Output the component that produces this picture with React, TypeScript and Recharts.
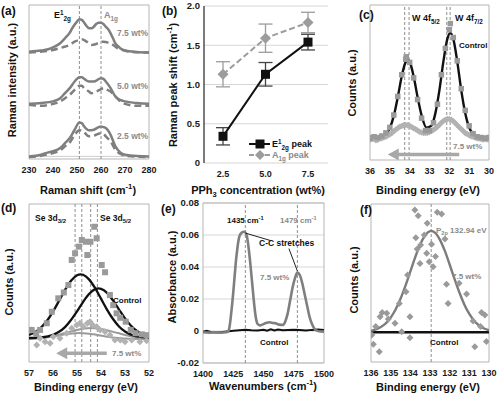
import React from 'react';
import {
  ComposedChart, Line, Scatter, XAxis, YAxis, ReferenceLine, ReferenceArea,
  ReferenceDot, CartesianGrid, ErrorBar,
} from 'recharts';

const FONT = '"Liberation Sans", Arial, Helvetica, sans-serif';
type P = [number, number];
const toXY = (arr: P[]) => arr.map(([x, y]) => ({ x, y }));

// ---------- (a) Raman spectra ----------
const ramanTicks = [230, 240, 250, 260, 270, 280];
const ramanPeakLines = [251, 260];
const raman75Solid: P[] = [[230,69.7],[235,70.4],[238,71.3],[240,72.5],[243,75.2],[245,78.4],[247,82.1],[248,84.9],[250,89.2],[251,90.7],[252,90.3],[253,88.5],[254,86.4],[255,84.9],[256,84.9],[257,85.9],[258,87.7],[259,88.5],[260,88.5],[261,87.7],[262,85.9],[263,84.2],[264,81.6],[265,78.4],[266,75.1],[267,73.4],[268,71.9],[270,70.4],[275,69.5],[280,69.1]];
const raman75Dash: P[] = [[230,69.1],[235,69.7],[240,70.8],[244,72.5],[247,74.1],[249,76.2],[251,77.3],[252,77.7],[254,76.2],[256,74.1],[258,74.7],[260,76.0],[261,76.2],[263,75.6],[265,74.1],[267,71.9],[269,70.8],[272,69.7],[280,69.1]];
const raman50Solid: P[] = [[230,35.8],[235,36.3],[240,37.4],[243,39.5],[245,42.8],[247,46.0],[249,50.3],[251,53.1],[252,53.1],[253,52.0],[255,50.3],[257,50.3],[259,51.8],[260,52.5],[261,52.0],[262,50.3],[264,46.0],[266,40.6],[268,38.4],[270,37.4],[275,36.3],[280,35.8]];
const raman50Dash: P[] = [[230,35.2],[235,34.5],[240,35.8],[243,37.4],[245,39.5],[247,41.7],[249,44.9],[251,47.5],[252,47.5],[253,46.0],[255,43.8],[256,42.7],[258,43.8],[260,45.3],[261,46.0],[262,45.3],[264,43.8],[266,40.6],[268,37.4],[270,35.8],[275,34.5],[280,34.5]];
const raman25Solid: P[] = [[230,1.7],[235,2.8],[238,4.3],[240,5.0],[243,7.1],[245,10.3],[247,13.6],[249,19.0],[251,23.7],[252,23.3],[253,21.1],[255,18.6],[257,19.0],[259,20.7],[260,21.1],[261,20.7],[262,20.1],[264,15.7],[266,8.2],[268,4.3],[270,2.8],[275,1.9],[280,1.7]];
const raman25Dash: P[] = [[230,1.3],[235,2.1],[240,3.9],[243,5.6],[245,8.2],[247,10.8],[249,15.7],[251,18.6],[252,18.4],[253,17.3],[255,14.7],[257,15.1],[259,16.4],[260,16.8],[261,16.4],[262,14.7],[264,11.4],[266,6.0],[268,3.4],[270,2.1],[275,1.5],[280,1.3]];
const ramanBaseline = 1.7;

// ---------- (b) peak shift ----------
const concentrations = ['2.5', '5.0', '7.5'];
const e2gShift = [0.34, 1.13, 1.54];
const e2gErr = [0.11, 0.15, 0.10];
const a1gShift = [1.13, 1.59, 1.79];
const a1gErr = [0.16, 0.18, 0.13];
const shiftTicks = [0, 0.5, 1, 1.5, 2];

// ---------- (c) W 4f ----------
const beTicksW = [30, 31, 32, 33, 34, 35, 36];
const wPeakLines = [34.25, 34.03, 32.13, 31.96];
const wFitControl: P[] = [[36,14.8],[35.6,14.9],[35.3,15.9],[35.0,20.7],[34.8,28.5],[34.6,40.5],[34.4,54.0],[34.25,61.6],[34.1,64.5],[33.95,61.6],[33.8,54.0],[33.6,40.5],[33.4,28.8],[33.15,20.9],[32.9,22.2],[32.7,30.4],[32.5,45.1],[32.3,63.5],[32.1,78.1],[31.95,82.0],[31.8,78.1],[31.6,63.5],[31.4,45.1],[31.2,30.4],[31.0,21.0],[30.8,16.9],[30.5,15.1],[30.0,14.8]];
const wDataControl: P[] = [[36.0,14],[35.8,15],[35.6,14.5],[35.4,15.5],[35.2,17.5],[35.0,21],[34.8,29],[34.6,41],[34.4,55],[34.2,65],[34.17,66.6],[34.0,63],[33.8,53],[33.6,39],[33.4,27],[33.2,19],[33.0,19],[32.8,24],[32.6,36],[32.4,55],[32.2,72],[32.0,84],[31.95,88],[31.8,79],[31.6,64],[31.4,46],[31.2,32],[31.0,22],[30.8,17],[30.6,15],[30.4,14.5],[30.2,14],[30.0,14.5]];
const wData75: P[] = [[36.0,13],[35.9,13.5],[35.8,13.5],[35.7,12.8],[35.6,13],[35.5,13.8],[35.4,14],[35.3,14.6],[35.2,15],[35.1,15.8],[35.0,16.5],[34.9,17.4],[34.8,18.5],[34.7,19.6],[34.6,20.5],[34.5,21.4],[34.4,22],[34.3,22.4],[34.2,22.6],[34.1,22.4],[34.0,22],[33.9,21.3],[33.8,20.5],[33.7,19.8],[33.6,19],[33.5,18.3],[33.4,17.8],[33.3,17.5],[33.2,17.4],[33.1,17.6],[33.0,18],[32.9,18.7],[32.8,19.5],[32.7,20.4],[32.6,21.5],[32.5,22.8],[32.4,24],[32.3,25.1],[32.2,26],[32.1,26.4],[32.0,26.5],[31.9,25.9],[31.8,25],[31.7,23.8],[31.6,22.5],[31.5,21.2],[31.4,20],[31.3,18.7],[31.2,17.5],[31.1,16.7],[31.0,16],[30.9,15.4],[30.8,15],[30.7,14.5],[30.6,14],[30.5,13.8],[30.4,13.5],[30.3,13.2],[30.2,13.5],[30.1,13.2],[30.0,13]];
const wArrow = { from: 31.5, to: 34.6, level: 3.5 };

// ---------- (d) Se 3d ----------
const beTicksSe = [52, 53, 54, 55, 56, 57];
const sePeakLines = [55.08, 54.8, 54.43, 54.15];
const seFit1: P[] = [[57,17.1],[56.75,18.8],[56.5,21.8],[56.25,26.1],[56,31.9],[55.75,38.7],[55.5,45.6],[55.25,51.4],[55,54.9],[54.85,55.5],[54.75,55.2],[54.5,52.3],[54.25,46.9],[54,40.1],[53.75,33.2],[53.5,27.2],[53.25,22.5],[53,19.3],[52.75,17.3],[52.5,16.2],[52.25,15.7],[52,15.4]];
const seFit2: P[] = [[57,15.2],[56.5,15.6],[56,17.2],[55.75,19.1],[55.5,22.1],[55.25,26.6],[55,32.0],[54.75,37.9],[54.5,43.0],[54.25,46.1],[54.1,46.6],[54,46.3],[53.75,43.8],[53.5,39.0],[53.25,33.2],[53,27.6],[52.75,22.9],[52.5,19.6],[52.25,17.5],[52,16.3]];
const seFit75A: P[] = [[57,14.7],[56.5,15.3],[56,16.4],[55.5,18.3],[55,20.3],[54.7,21.2],[54.4,21.5],[54.1,21.2],[53.8,20.3],[53.3,18.3],[52.8,16.4],[52.3,15.3],[52,14.9]];
const seFit75B: P[] = [[57,14.7],[56.5,15.2],[56,16.2],[55.5,17.5],[55.2,18.1],[54.9,18.3],[54.6,18.1],[54.3,17.5],[53.8,16.2],[53.3,15.2],[52.8,14.7],[52,14.5]];
const seDataControl: P[] = [[56.89,20.3],[56.7,18],[56.54,20.3],[56.26,24.5],[56.05,31.8],[55.78,40.3],[55.55,44],[55.36,48.7],[55.22,64.6],[55.08,68.8],[54.92,73],[54.8,77.2],[54.63,76.1],[54.57,67.7],[54.44,76.1],[54.28,85.6],[54.18,78.3],[53.97,61.4],[53.83,56.8],[53.63,42.4],[53.49,36],[53.35,30.8],[53.2,28],[52.97,25.5],[52.76,20.3],[52.56,18.2],[52.3,17.5],[52.1,17]];
const seData75: P[] = [[56.89,20.3],[56.68,10.8],[56.54,15],[56.33,12.8],[56.12,11.8],[55.99,16],[55.71,15],[55.43,18.2],[55.22,21.3],[55.01,23.4],[54.88,24.5],[54.74,22.3],[54.57,24.5],[54.46,25.5],[54.35,23.4],[54.18,22.3],[54.04,20.3],[53.83,19.2],[53.63,17.1],[53.42,13.9],[53.2,13.9],[53.0,12.8],[52.72,14],[52.38,12.8],[52.1,13.5]];
const seArrow = { from: 53.76, to: 55.45, level: 5.5 };

// ---------- (e) FTIR ----------
const waveTicks = [1400, 1425, 1450, 1475, 1500];
const absTicks = [-0.02, 0, 0.02, 0.04, 0.06, 0.08];
const irPeakLines = [1435, 1478];
const ir75: P[] = [[1400,-0.0008],[1405,-0.001],[1410,-0.0008],[1415,-0.001],[1419,-0.0008],[1421,0],[1422,0.003],[1423,0.009],[1424,0.016],[1425,0.024],[1426,0.033],[1427,0.042],[1428,0.049],[1429,0.055],[1430,0.059],[1432,0.0615],[1434,0.062],[1436,0.06],[1437,0.056],[1438,0.05],[1439,0.043],[1440,0.035],[1441,0.027],[1442,0.019],[1443,0.012],[1444,0.007],[1445,0.0045],[1447,0.0035],[1449,0.004],[1452,0.005],[1455,0.0055],[1458,0.005],[1460,0.0048],[1463,0.004],[1466,0.0038],[1468,0.006],[1470,0.011],[1472,0.019],[1474,0.027],[1476,0.033],[1478,0.0365],[1480,0.035],[1482,0.03],[1484,0.023],[1486,0.016],[1488,0.009],[1490,0.0045],[1492,0.0015],[1494,0.0002],[1497,-0.0003],[1500,-0.0004]];
const irControl: P[] = [[1400,-0.0005],[1403,0.0002],[1407,-0.0008],[1412,-0.001],[1418,-0.0005],[1425,0.0002],[1430,0.0005],[1435,0.0008],[1440,0.0004],[1445,0.0003],[1450,0.0008],[1453,0.0002],[1456,0.001],[1459,0.0003],[1462,0.0009],[1466,0.0004],[1470,0.0006],[1475,0.0008],[1480,0.0006],[1485,0.0003],[1490,0.0007],[1495,0.0009],[1500,0.0006]];
const leader1: P[] = [[1435, 0.0612], [1456, 0.0565]];
const leader2: P[] = [[1471, 0.0515], [1478, 0.0375]];

// ---------- (f) P 2p ----------
const beTicksP = [130, 131, 132, 133, 134, 135, 136];
const pPeakLine = 132.94;
const pFit75: P[] = [[136,19.7],[135.75,20.6],[135.5,22.1],[135.25,24.4],[135,28.1],[134.75,33.2],[134.5,40.0],[134.25,48.2],[134,57.3],[133.75,66.4],[133.5,74.4],[133.25,80.1],[133,82.8],[132.94,82.9],[132.75,81.9],[132.5,77.5],[132.25,70.5],[132,61.7],[131.75,52.5],[131.5,43.8],[131.25,36.3],[131,30.4],[130.75,26.0],[130.5,23.1],[130.25,21.2],[130,20.1]];
const pControl: P[] = [[136,18.8],[133,18.8],[130,18.8]];
const pData75: P[] = [[133.77,96.2],[133.6,92.6],[132.63,94.7],[132.41,93.7],[133.14,87.8],[133.72,78.7],[133.29,80.4],[132.24,77.8],[133.48,74.1],[132.92,74.5],[133.65,71.5],[133.17,68.8],[132.72,66.7],[133.51,62.4],[133.04,63.5],[132.84,60.3],[134.14,55.1],[131.52,49.8],[132.16,49.2],[134.22,44.5],[131.14,43.0],[134.56,37.1],[132.08,37.1],[135.43,31.4],[135.2,30.8],[135.54,28.7],[135.12,27.2],[134.02,28.7],[130.38,31.4],[130.21,29.7],[134.78,24.5],[130.81,25.9],[135.76,22.4],[130.43,22.4],[135.96,17.1],[135.88,11.2],[135.58,6.5],[134.44,19.2],[134.02,15.4],[130.72,9.7],[130.13,12.9]];

// ---------- styles ----------
const BLACK = '#111111';
const GRAY = '#7f7f7f';
const GRAY_MARK = '#9a9a9a';
const LIGHT_MARK = '#b2b2b2';
const BOX = '#b5b5b5';
const DASH = '#8e8e8e';
const TXT_GRAY = '#8a8a8a';
const tickStyle = { fontSize: 9, fontWeight: 700, fill: '#1a1a1a', fontFamily: FONT };

const squareShape = (size: number, fill: string) => (p: any) =>
  p.cx == null ? <g /> : <rect x={p.cx - size / 2} y={p.cy - size / 2} width={size} height={size} fill={fill} />;
const diamondShape = (size: number, fill: string) => (p: any) => {
  if (p.cx == null) return <g />;
  const h = size / 2;
  return <polygon points={`${p.cx},${p.cy - h} ${p.cx + h},${p.cy} ${p.cx},${p.cy + h} ${p.cx - h},${p.cy}`} fill={fill} />;
};
const arrowHead = (fill: string) => (p: any) =>
  p.cx == null ? <g /> : <polygon points={`${p.cx - 10},${p.cy} ${p.cx + 1},${p.cy - 6} ${p.cx + 1},${p.cy + 6}`} fill={fill} />;

const Lbl = ({ x, y, size = 8, color = BLACK, anchor = 'start', rot = false, children }: any) => (
  <text
    x={rot ? x + size * 0.35 : x}
    y={rot ? y : y + size * 0.35}
    fontSize={size}
    fontWeight={700}
    fill={color}
    textAnchor={anchor}
    fontFamily={FONT}
    transform={rot ? `rotate(-90 ${x + size * 0.35} ${y})` : undefined}
  >
    {children}
  </text>
);

const Sup = ({ children, s }: any) => <tspan fontSize={s * 0.7} dy={-s * 0.4}>{children}</tspan>;
const After = ({ children, s }: any) => <tspan dy={s * 0.4}>{children}</tspan>;

const Box = ({ x1, x2, y1, y2 }: any) => (
  <ReferenceArea x1={x1} x2={x2} y1={y1} y2={y2} fill="none" fillOpacity={0} stroke={BOX} strokeWidth={1} />
);

const PanelA = () => (
  <ComposedChart width={165} height={197} margin={{ top: 5, left: 29, right: 16, bottom: 0 }}>
    <XAxis type="number" dataKey="x" domain={[230, 280]} ticks={ramanTicks} allowDataOverflow
      axisLine={false} tickLine={false} tick={tickStyle} height={38} interval={0} />
    <YAxis type="number" dataKey="y" domain={[0, 100]} hide allowDataOverflow />
    <Box x1={230} x2={280} y1={0} y2={100} />
    <ReferenceLine y={ramanBaseline} stroke="#cfcfcf" strokeWidth={1} />
    {ramanPeakLines.map((v) => (
      <ReferenceLine key={v} x={v} stroke={DASH} strokeDasharray="3 2" strokeWidth={1} />
    ))}
    {[raman75Solid, raman50Solid, raman25Solid].map((d, i) => (
      <Line key={'s' + i} data={toXY(d)} dataKey="y" type="monotone" dot={false} stroke={GRAY} strokeWidth={2.5} isAnimationActive={false} />
    ))}
    {[raman75Dash, raman50Dash, raman25Dash].map((d, i) => (
      <Line key={'d' + i} data={toXY(d)} dataKey="y" type="monotone" dot={false} stroke={GRAY} strokeWidth={2.5} strokeDasharray="7 4" isAnimationActive={false} />
    ))}
  </ComposedChart>
);

const panelBRows = concentrations.map((c, i) => ({ conc: c, e: e2gShift[i], eErr: e2gErr[i], a: a1gShift[i], aErr: a1gErr[i] }));

const PanelB = () => (
  <ComposedChart width={170} height={197} data={panelBRows} margin={{ top: 6, left: 0, right: 2, bottom: 0 }}>
    <CartesianGrid vertical={false} stroke="#d6d6d6" />
    <XAxis dataKey="conc" type="category" axisLine={false} tickLine={false} tick={tickStyle} height={34}
      padding={{ left: 19, right: 20 }} />
    <YAxis type="number" domain={[0, 2]} ticks={shiftTicks} width={44} allowDataOverflow
      axisLine={{ stroke: '#222', strokeWidth: 1.2 }} tickLine={false} tickSize={0} tickMargin={4}
      tick={{ ...tickStyle, fontSize: 9.5 }} tickFormatter={(v: number) => (v === 0 ? '0' : v.toFixed(1))} />
    <Line dataKey="a" stroke="#9c9c9c" strokeWidth={2} strokeDasharray="6 3" isAnimationActive={false}
      dot={(p: any) => <g key={'ad' + p.index}>{diamondShape(11, '#9c9c9c')(p)}</g>}>
      <ErrorBar dataKey="aErr" width={7} stroke="#9c9c9c" strokeWidth={1.3} direction="y" />
    </Line>
    <Line dataKey="e" stroke={BLACK} strokeWidth={2} isAnimationActive={false}
      dot={(p: any) => <g key={'ed' + p.index}>{squareShape(9, BLACK)(p)}</g>}>
      <ErrorBar dataKey="eErr" width={7} stroke="#444" strokeWidth={1.3} direction="y" />
    </Line>
  </ComposedChart>
);

const PanelC = () => (
  <ComposedChart width={170} height={197} margin={{ top: 5, left: 40, right: 11, bottom: 0 }}>
    <XAxis type="number" dataKey="x" domain={[30, 36]} reversed ticks={beTicksW} allowDataOverflow interval={0}
      axisLine={false} tickLine={false} tick={tickStyle} height={37} />
    <YAxis type="number" dataKey="y" domain={[0, 100]} hide allowDataOverflow />
    <Box x1={30} x2={36} y1={0} y2={100} />
    {wPeakLines.map((v) => (
      <ReferenceLine key={v} x={v} stroke={DASH} strokeDasharray="3 2" strokeWidth={1} />
    ))}
    <Scatter data={toXY(wData75)} isAnimationActive={false} shape={diamondShape(6.5, LIGHT_MARK)} />
    <Scatter data={toXY(wDataControl)} isAnimationActive={false} shape={squareShape(5.5, GRAY_MARK)} />
    <Line data={toXY(wFitControl)} dataKey="y" type="monotone" dot={false} stroke={BLACK} strokeWidth={2.4} isAnimationActive={false} />
    <ReferenceLine segment={[{ x: wArrow.from, y: wArrow.level }, { x: wArrow.to, y: wArrow.level }]} stroke="#a8a8a8" strokeWidth={3.5} />
    <ReferenceDot x={wArrow.to} y={wArrow.level} r={0} shape={arrowHead('#a8a8a8')} />
  </ComposedChart>
);

const PanelD = () => (
  <ComposedChart width={165} height={199} margin={{ top: 9, left: 29, right: 16, bottom: 0 }}>
    <XAxis type="number" dataKey="x" domain={[52, 57]} reversed ticks={beTicksSe} allowDataOverflow interval={0}
      axisLine={false} tickLine={false} tick={tickStyle} height={32} />
    <YAxis type="number" dataKey="y" domain={[0, 100]} hide allowDataOverflow />
    <Box x1={52} x2={57} y1={0} y2={100} />
    {sePeakLines.map((v) => (
      <ReferenceLine key={v} x={v} stroke={DASH} strokeDasharray="3 2" strokeWidth={1} />
    ))}
    <Scatter data={toXY(seData75)} isAnimationActive={false} shape={diamondShape(7, LIGHT_MARK)} />
    <Scatter data={toXY(seDataControl)} isAnimationActive={false} shape={squareShape(6, GRAY_MARK)} />
    <Line data={toXY(seFit75A)} dataKey="y" type="monotone" dot={false} stroke="#9a9a9a" strokeWidth={2} isAnimationActive={false} />
    <Line data={toXY(seFit75B)} dataKey="y" type="monotone" dot={false} stroke="#9a9a9a" strokeWidth={2} isAnimationActive={false} />
    <Line data={toXY(seFit1)} dataKey="y" type="monotone" dot={false} stroke={BLACK} strokeWidth={2.3} isAnimationActive={false} />
    <Line data={toXY(seFit2)} dataKey="y" type="monotone" dot={false} stroke={BLACK} strokeWidth={2.3} isAnimationActive={false} />
    <ReferenceLine segment={[{ x: seArrow.from, y: seArrow.level }, { x: seArrow.to, y: seArrow.level }]} stroke="#a8a8a8" strokeWidth={3.5} />
    <ReferenceDot x={seArrow.to} y={seArrow.level} r={0} shape={arrowHead('#a8a8a8')} />
  </ComposedChart>
);

const PanelE = () => (
  <ComposedChart width={184} height={199} margin={{ top: 8, left: 0, right: 20, bottom: 0 }}>
    <CartesianGrid vertical={false} stroke="#d6d6d6" />
    <XAxis type="number" dataKey="x" domain={[1400, 1500]} ticks={waveTicks} allowDataOverflow interval={0}
      axisLine={false} tickLine={false} tick={tickStyle} height={31} />
    <YAxis type="number" dataKey="y" domain={[-0.02, 0.08]} ticks={absTicks} width={43} allowDataOverflow interval={0}
      axisLine={false} tickLine={false} tickSize={0} tickMargin={4} tick={{ ...tickStyle, fontSize: 9.5 }}
      tickFormatter={(v: number) => (Math.abs(v) < 1e-9 ? '0' : v.toFixed(2))} />
    <Box x1={1400} x2={1500} y1={-0.02} y2={0.08} />
    {irPeakLines.map((v) => (
      <ReferenceLine key={v} x={v} stroke={DASH} strokeDasharray="3 2" strokeWidth={1} />
    ))}
    <Line data={toXY(irControl)} dataKey="y" type="linear" dot={false} stroke={BLACK} strokeWidth={2} isAnimationActive={false} />
    <Line data={toXY(ir75)} dataKey="y" type="monotone" dot={false} stroke={GRAY} strokeWidth={2.6} isAnimationActive={false} />
    <ReferenceLine segment={toXY(leader1)} stroke="#222" strokeWidth={1} />
    <ReferenceLine segment={toXY(leader2)} stroke="#222" strokeWidth={1} />
  </ComposedChart>
);

const PanelF = () => (
  <ComposedChart width={170} height={199} margin={{ top: 9, left: 41, right: 11, bottom: 0 }}>
    <XAxis type="number" dataKey="x" domain={[130, 136]} reversed ticks={beTicksP} allowDataOverflow interval={0}
      axisLine={false} tickLine={false} tick={tickStyle} height={32} />
    <YAxis type="number" dataKey="y" domain={[0, 100]} hide allowDataOverflow />
    <Box x1={130} x2={136} y1={0} y2={100} />
    <ReferenceLine x={pPeakLine} stroke={DASH} strokeDasharray="3 2" strokeWidth={1} />
    <Scatter data={toXY(pData75)} isAnimationActive={false} shape={diamondShape(7, GRAY_MARK)} />
    <Line data={toXY(pControl)} dataKey="y" type="linear" dot={false} stroke={BLACK} strokeWidth={2.4} isAnimationActive={false} />
    <Line data={toXY(pFit75)} dataKey="y" type="monotone" dot={false} stroke="#7c7c7c" strokeWidth={2.4} isAnimationActive={false} />
  </ComposedChart>
);

const Overlay = () => (
  <svg width={500} height={394} style={{ position: 'absolute', left: 0, top: 0, pointerEvents: 'none' }}>
    {/* panel letters */}
    <Lbl x={1} y={11} size={12}>(a)</Lbl>
    <Lbl x={162} y={11} size={12}>(b)</Lbl>
    <Lbl x={359} y={15} size={12}>(c)</Lbl>
    <Lbl x={1} y={208} size={12}>(d)</Lbl>
    <Lbl x={161} y={209} size={12}>(e)</Lbl>
    <Lbl x={360} y={210} size={12}>(f)</Lbl>

    {/* (a) */}
    <Lbl x={54} y={15} size={9}>E<Sup s={9}>1</Sup><tspan fontSize={6.3} dy={6}>2g</tspan></Lbl>
    <Lbl x={104} y={15} size={9} color={TXT_GRAY}>A<tspan fontSize={6.3} dy={2.5}>1g</tspan></Lbl>
    <Lbl x={117} y={33} size={8.5} color={TXT_GRAY}>7.5 wt%</Lbl>
    <Lbl x={117} y={86} size={8.5} color={TXT_GRAY}>5.0 wt%</Lbl>
    <Lbl x={117} y={136} size={8.5} color={TXT_GRAY}>2.5 wt%</Lbl>
    <Lbl x={12} y={80} size={11} anchor="middle" rot>Raman intensity (a.u.)</Lbl>
    <Lbl x={88} y={190} size={11} anchor="middle">Raman shift (cm<Sup s={11}>-1</Sup><After s={11}>)</After></Lbl>

    {/* (b) */}
    <Lbl x={173} y={85} size={11} anchor="middle" rot>Raman peak shift (cm<Sup s={11}>-1</Sup><After s={11}>)</After></Lbl>
    <Lbl x={258} y={190} size={11} anchor="middle">PPh<tspan fontSize={7.5} dy={3}>3</tspan><tspan dy={-3}> concentration (wt%)</tspan></Lbl>
    <line x1={249} x2={270} y1={144} y2={144} stroke={BLACK} strokeWidth={2} />
    <rect x={255.5} y={139.5} width={9} height={9} fill={BLACK} />
    <Lbl x={272} y={144} size={9}>E<Sup s={9}>1</Sup><tspan fontSize={6.3} dy={6}>2g</tspan><tspan dy={-2.4}> peak</tspan></Lbl>
    <line x1={249} x2={270} y1={155} y2={155} stroke="#9c9c9c" strokeWidth={2} strokeDasharray="5 3" />
    <polygon points="260,150 265,155 260,160 255,155" fill="#9c9c9c" />
    <Lbl x={272} y={155} size={9} color={TXT_GRAY}>A<tspan fontSize={6.3} dy={2.5}>1g</tspan><tspan dy={-2.5}> peak</tspan></Lbl>

    {/* (c) */}
    <Lbl x={412} y={18} size={9}>W 4f<tspan fontSize={6.3} dy={2.5}>5/2</tspan></Lbl>
    <Lbl x={455} y={18} size={9}>W 4f<tspan fontSize={6.3} dy={2.5}>7/2</tspan></Lbl>
    <Lbl x={459} y={45} size={8}>Control</Lbl>
    <Lbl x={453} y={146} size={8} color={TXT_GRAY}>7.5 wt%</Lbl>
    <Lbl x={352} y={83} size={11} anchor="middle" rot>Counts (a.u.)</Lbl>
    <Lbl x={428} y={190} size={11} anchor="middle">Binding energy (eV)</Lbl>

    {/* (d) */}
    <Lbl x={35} y={218} size={8.5}>Se 3d<tspan fontSize={6} dy={2.5}>3/2</tspan></Lbl>
    <Lbl x={100} y={218} size={8.5}>Se 3d<tspan fontSize={6} dy={2.5}>5/2</tspan></Lbl>
    <Lbl x={113} y={300} size={8}>Control</Lbl>
    <Lbl x={112} y={353} size={8} color={TXT_GRAY}>7.5 wt%</Lbl>
    <Lbl x={9} y={282} size={11} anchor="middle" rot>Counts (a.u.)</Lbl>
    <Lbl x={86} y={387} size={11} anchor="middle">Binding energy (eV)</Lbl>

    {/* (e) */}
    <Lbl x={227} y={220} size={8}>1435 cm<Sup s={8}>-1</Sup></Lbl>
    <Lbl x={280} y={220} size={8} color={TXT_GRAY}>1479 cm<Sup s={8}>-1</Sup></Lbl>
    <Lbl x={259} y={243} size={8.5}>C-C stretches</Lbl>
    <Lbl x={260} y={277} size={8} color={TXT_GRAY}>7.5 wt%</Lbl>
    <Lbl x={260} y={342} size={8}>Control</Lbl>
    <Lbl x={172} y={277} size={11} anchor="middle" rot>Absorbance (a.u.)</Lbl>
    <Lbl x={263} y={386} size={11} anchor="middle">Wavenumbers (cm<Sup s={11}>-1</Sup><After s={11}>)</After></Lbl>

    {/* (f) */}
    <Lbl x={436} y={230} size={8} color={TXT_GRAY}>P<tspan fontSize={5.6} dy={2.2}>2p</tspan><tspan dy={-2.2}> 132.94 eV</tspan></Lbl>
    <Lbl x={452} y={276} size={8} color={TXT_GRAY}>7.5 wt%</Lbl>
    <Lbl x={430} y={342} size={8}>Control</Lbl>
    <Lbl x={354} y={280} size={11} anchor="middle" rot>Counts (a.u.)</Lbl>
    <Lbl x={428} y={387} size={11} anchor="middle">Binding energy (eV)</Lbl>
  </svg>
);

const cell = (left: number, top: number): React.CSSProperties => ({ position: 'absolute', left, top });

export default function App() {
  return (
    <div style={{ position: 'absolute', left: 0, top: 0, width: 500, height: 394, background: '#fff', overflow: 'hidden', fontFamily: FONT }}>
      <div style={cell(0, 0)}><PanelA /></div>
      <div style={cell(160, 0)}><PanelB /></div>
      <div style={cell(330, 0)}><PanelC /></div>
      <div style={cell(0, 195)}><PanelD /></div>
      <div style={cell(160, 195)}><PanelE /></div>
      <div style={cell(330, 195)}><PanelF /></div>
      <Overlay />
    </div>
  );
}
